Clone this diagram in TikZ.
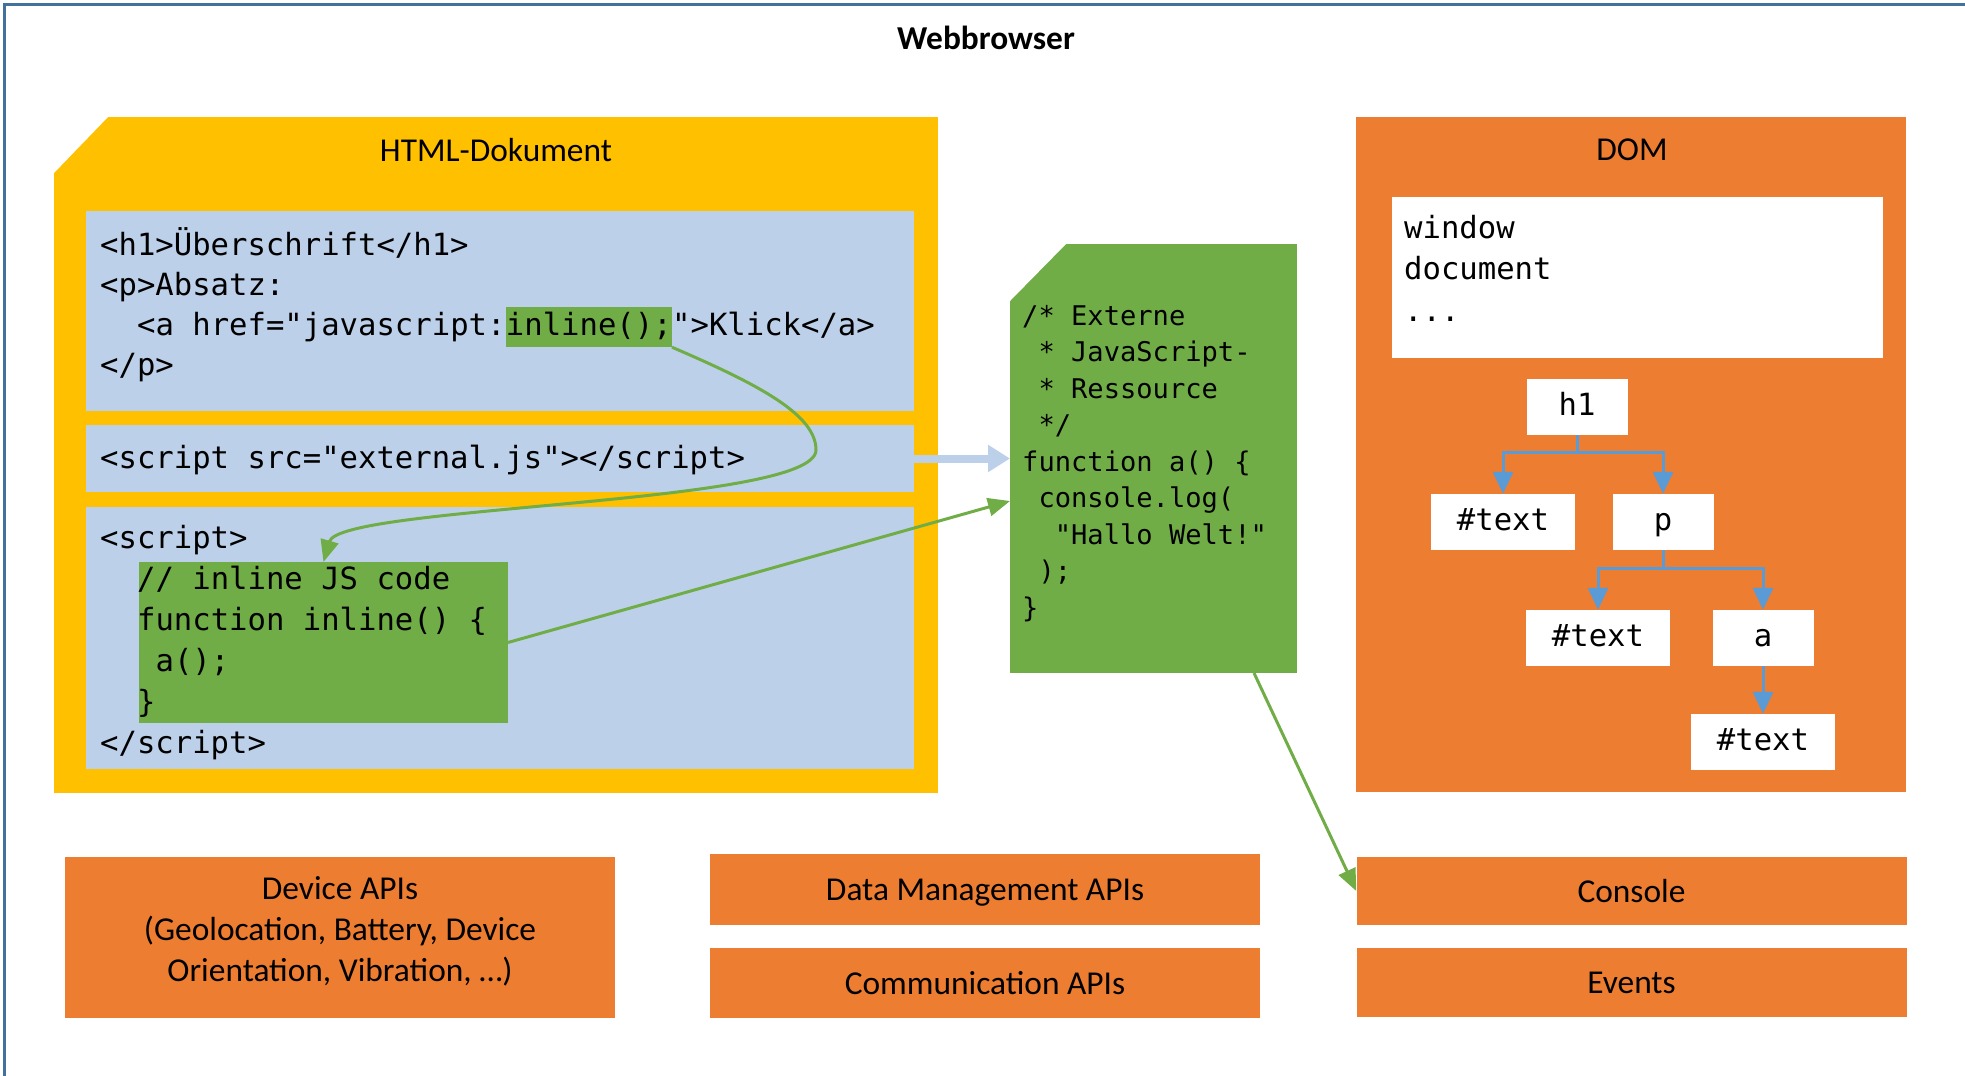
\documentclass[tikz,border=0pt]{standalone}
\usepackage{fontspec}
\setmainfont{Carlito}
\setmonofont{DejaVu Sans Mono}
\usepackage{xcolor}
\usepackage{tikz}
\usetikzlibrary{positioning,arrows.meta}

\definecolor{docyellow}{HTML}{FFC000}
\definecolor{codeblue}{RGB}{189,208,233}
\definecolor{jsgreen}{HTML}{70AD47}
\definecolor{apiorange}{HTML}{ED7D31}
\definecolor{treeblue}{HTML}{5B9BD5}
\definecolor{framecol}{HTML}{41719C}

\newcommand{\codefont}{\ttfamily\fontsize{30.6}{40.6}\selectfont}
\newcommand{\extfont}{\ttfamily\fontsize{27.1}{36.5}\selectfont}
\newcommand{\labfont}{\fontsize{33.4}{41}\selectfont}

\begin{document}
\begin{tikzpicture}[x=1pt, y=-1pt,
  panel/.style={inner sep=0pt, outer sep=0pt},
  codeline/.style={font=\codefont, anchor=base west, inner sep=0pt},
  extline/.style={font=\extfont, anchor=base west, inner sep=0pt},
  treenode/.style={fill=white, font=\codefont, minimum height=56pt, text height=22pt, text depth=6pt, inner sep=0pt},
  apibox/.style={fill=apiorange, font=\labfont, align=center, inner sep=0pt, minimum width=550pt, text depth=0pt},
  treearrow/.style={draw=treeblue, line width=3pt, -{Triangle[width=20pt,length=22pt]}},
  callarrow/.style={draw=jsgreen, line width=3pt, -{Triangle[width=18pt,length=22pt]}},
  loadarrow/.style={draw=codeblue, line width=8pt, -{Triangle[width=26pt,length=22pt]}}]
\useasboundingbox (0,0) rectangle (1965,1076);
\draw[framecol, line width=3pt] (4,1076) -- (4,4) -- (1965,4);
\node[font=\labfont\bfseries, anchor=base] (title) at (986,49) {Webbrowser};

\node[panel, fill=docyellow, minimum width=883.5pt, minimum height=676pt] (htmldoc) at (495.75,455) {};
\fill[white] (htmldoc.north west) -- ++(54,0) -- ++(-54,56) -- cycle;
\node[font=\labfont, anchor=base] (htmltitle) at (496,161) {HTML-Dokument};
\node[panel, fill=codeblue, minimum width=828pt, minimum height=200pt] (blue1) at (500,311) {};
\node[panel, fill=codeblue, minimum width=828pt, minimum height=67pt] (blue2) at (500,458.5) {};
\node[panel, fill=codeblue, minimum width=828pt, minimum height=262pt] (blue3) at (500,638) {};

\node[codeline] (h1line) at (100,255) {<h1>Überschrift</h1>};
\node[codeline] (pline) at (100,295) {<p>Absatz:};
\node[codeline] (aline) at (136.9,335) {<a href="javascript:};
\node[codeline, fill=jsgreen, text height=28pt, text depth=12pt] (inl) at (aline.base east) {inline();};
\node[codeline] (aend) at (inl.base east) {">Klick</a>};
\node[codeline] (pend) at (100,375) {</p>};
\node[codeline] (srcline) at (100,468) {<script src="external.js"></script>};
\node[codeline] (sopen) at (100,548) {<script>};
\node[panel, fill=jsgreen, minimum width=369pt, minimum height=161pt] (jsinl) at (323.5,642.5) {};
\node[codeline] (js1) at (136.9,589) {// inline JS code};
\node[codeline] (js2) at (136.9,630) {function inline() \{};
\node[codeline] (js3) at (155.4,671) {a();};
\node[codeline] (js4) at (136.9,712) {\}};
\node[codeline] (sclose) at (100,753) {</script>};

\node[panel, fill=jsgreen, minimum width=287pt, minimum height=429pt] (ext) at (1153.5,458.5) {};
\fill[white] (ext.north west) -- ++(56,0) -- ++(-56,57) -- cycle;
\node[extline] (ext1) at (1022,325) {/* Externe};
\node[extline] (ext2) at (1038.3,361.5) {* JavaScript-};
\node[extline] (ext3) at (1038.3,398) {* Ressource};
\node[extline] (ext4) at (1038.3,434.5) {*/};
\node[extline] (ext5) at (1022,471) {function a() \{};
\node[extline] (ext6) at (1038.3,507.5) {console.log(};
\node[extline] (ext7) at (1054.6,544) {"Hallo Welt!"};
\node[extline] (ext8) at (1038.3,580.5) {);};
\node[extline] (ext9) at (1022,617) {\}};

\node[panel, fill=apiorange, minimum width=550pt, minimum height=675pt] (dom) at (1631,454.5) {};
\node[font=\labfont, anchor=base] (domtitle) at (1632,160) {DOM};
\node[panel, fill=white, minimum width=491pt, minimum height=161pt] (domwin) at (1637.5,277.5) {};
\node[codeline] (win) at (1404,238) {window};
\node[codeline] (docu) at (1404,279.5) {document};
\node[codeline] (more) at (1404,321) {...};

\node[treenode, minimum width=101pt] (h1) at (1577,407) {h1};
\node[treenode, minimum width=144pt] (txt1) at (1503,522) {\#text};
\node[treenode, minimum width=101pt] (p) at (1663,522) {p};
\node[treenode, minimum width=144pt] (txt2) at (1598,638) {\#text};
\node[treenode, minimum width=101pt] (a) at (1763,638) {a};
\node[treenode, minimum width=144pt] (txt3) at (1763,742) {\#text};

\node[apibox, minimum height=161pt, text depth=17pt] (device) at (340,937.5) {Device APIs\\(Geolocation, Battery, Device\\Orientation, Vibration, …)};
\node[apibox, minimum height=71pt] (datamgmt) at (985,889.5) {Data Management APIs};
\node[apibox, minimum height=70pt] (comm) at (985,983) {Communication APIs};
\node[apibox, minimum height=68pt] (console) at (1631.5,891) {Console};
\node[apibox, minimum height=69pt] (events) at (1631.5,982.5) {Events};

\draw[treearrow] (h1.south) -- ++(0,17) -| (txt1.north);
\draw[treearrow] (h1.south) -- ++(0,17) -| (p.north);
\draw[treearrow] (p.south) -- ++(0,18) -| (txt2.north);
\draw[treearrow] (p.south) -- ++(0,18) -| (a.north);
\draw[treearrow] (a.south) -- (txt3.north);

\coordinate (extin) at (1010,501);
\coordinate (extout) at (1254,673);
\draw[loadarrow] (blue2.east) -- (blue2.east -| ext.west);
\draw[callarrow] (jsinl.east) -- (extin);
\draw[callarrow] (extout) -- (console.west);
\draw[callarrow] (inl.south east) .. controls (760,385) and (816,415) .. (816,450) .. controls (816,505) and (340,505) .. (jsinl.north);
\end{tikzpicture}
\end{document}
